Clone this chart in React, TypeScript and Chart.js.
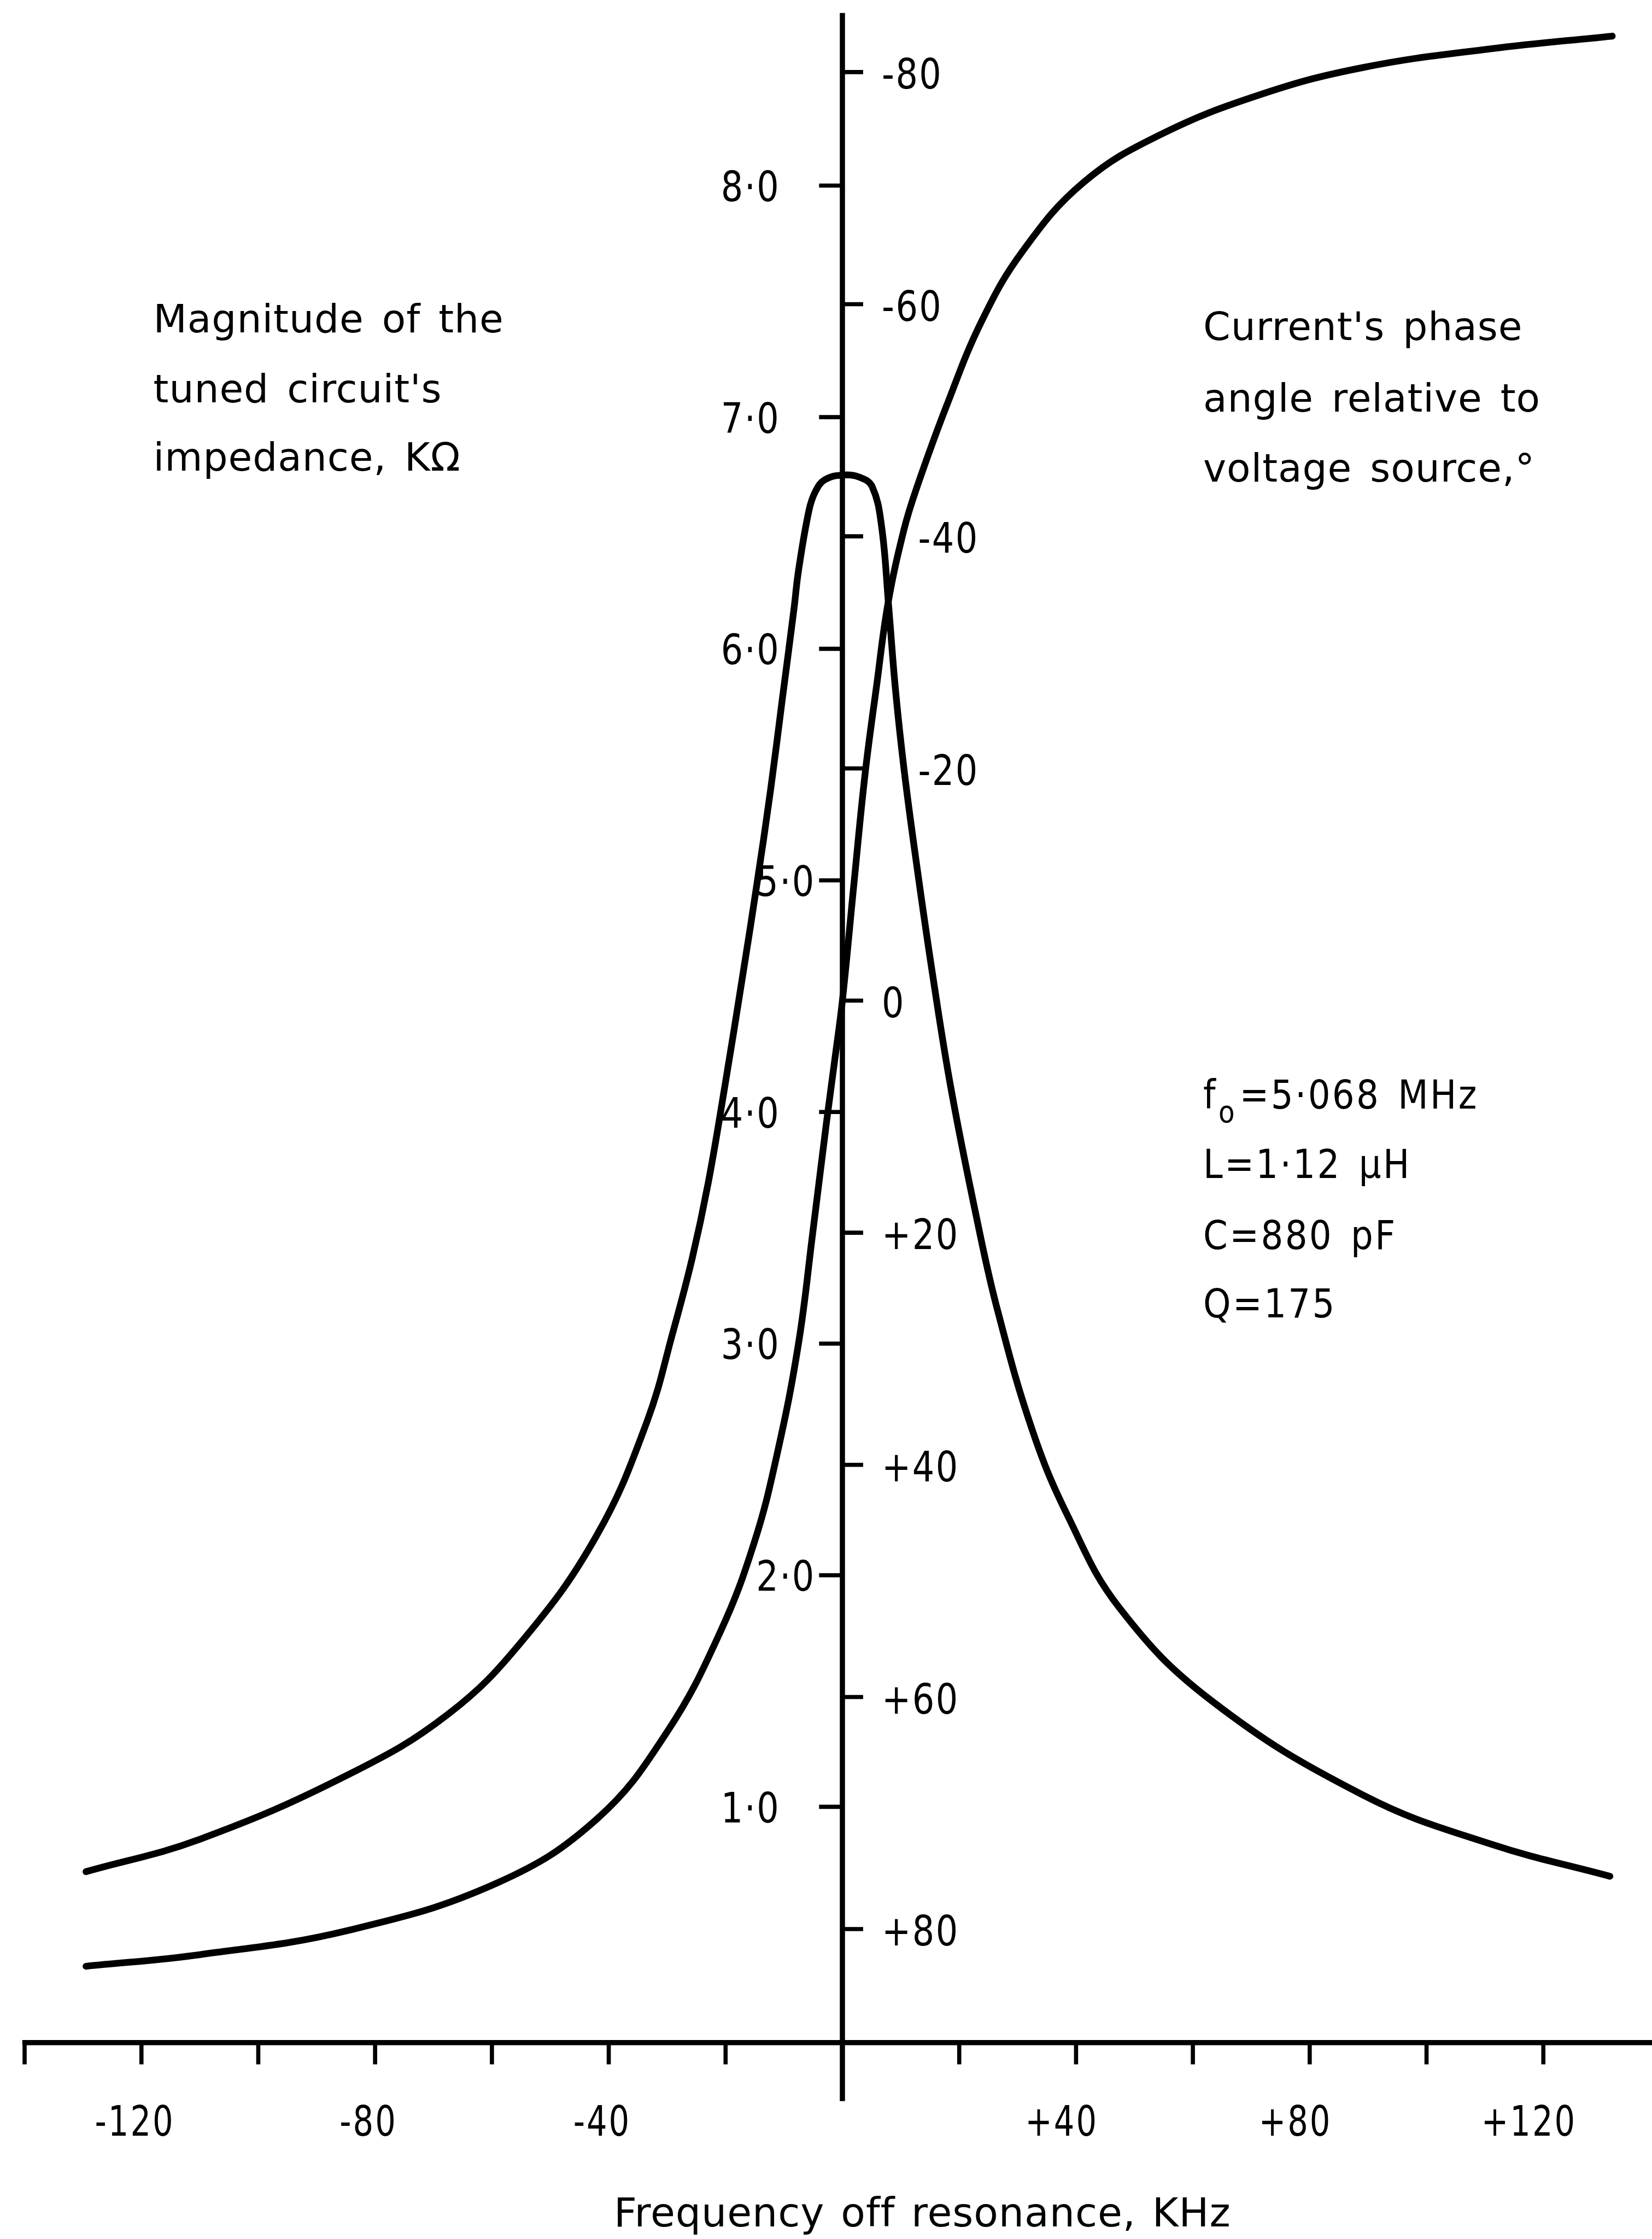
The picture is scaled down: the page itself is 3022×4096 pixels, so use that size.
import React, { useEffect, useRef } from "react";
import { Chart, registerables } from "chart.js";

Chart.register(...registerables);

const W = 3022;
const H = 4096;
// drawing unit: everything below is laid out on a 3188 x 4321 sheet and scaled down
const S = W / 3188;

// |Z| of the parallel tuned circuit, kΩ, against frequency off resonance, kHz
const impedanceFreq = [
  -129.5, -110, -84.5, -67.5, -54.7, -42.1, -33.5, -28.9, -25.7, -23.0, -20.2, -17.0, -14.6,
  -12.3, -10.3, -8.3, -7.5, -5.7, -4.6, -3.0, 0, 3.0, 5.1, 6.7, 7.9, 9.1, 10.6, 12.7, 15.4,
  18.6, 23.0, 26.5, 32.6, 38.7, 47.4, 63.1, 89.2, 110.9, 131.4,
];
const impedanceKOhm = [
  0.72, 0.86, 1.14, 1.4, 1.72, 2.17, 2.66, 3.06, 3.37, 3.69, 4.1, 4.6, 4.99, 5.39, 5.78, 6.17,
  6.34, 6.6, 6.68, 6.73, 6.75, 6.74, 6.7, 6.53, 6.19, 5.82, 5.47, 5.07, 4.6, 4.1, 3.54, 3.15,
  2.62, 2.25, 1.86, 1.46, 1.05, 0.84, 0.7,
];

// phase of the current relative to the voltage source, degrees
const phaseFreq = [
  -129.5, -110, -84.5, -59, -42, -30, -21, -15.1, -11.1, -7.5, -5.1, -2.7, -1.2, 0, 2.0, 3.9,
  5.9, 7.8, 10.5, 12.6, 17.8, 23.9, 30.9, 41.3, 54.4, 71.8, 89.2, 110.9, 131.8,
];
const phaseDeg = [
  83.2, 82.2, 80.1, 76.0, 70.5, 63.0, 54.5, 46.7, 38.9, 29.5, 20.1, 10.4, 4.7, 0, -10.2, -19.6,
  -27.3, -34.2, -40.5, -44.0, -51.2, -58.6, -64.6, -70.5, -74.6, -78.1, -80.4, -82.0, -83.1,
];

// axis ticks and labels
const freqTicks = [-140, -120, -100, -80, -60, -40, -20, 20, 40, 60, 80, 100, 120];
const freqLabelValues = [-120, -80, -40, 40, 80, 120];
const freqLabels = ["-120", "-80", "-40", "+40", "+80", "+120"];
const impedanceTicks = [1, 2, 3, 4, 5, 6, 7, 8];
const impedanceLabels = ["1·0", "2·0", "3·0", "4·0", "5·0", "6·0", "7·0", "8·0"];
const phaseTicks = [-80, -60, -40, -20, 0, 20, 40, 60, 80];
const phaseLabels = ["-80", "-60", "-40", "-20", "0", "+20", "+40", "+60", "+80"];

const impedanceNote = ["Magnitude of the", "tuned circuit's", "impedance, KΩ"];
const phaseNote = ["Current's phase", "angle relative to", "voltage source,°"];
const circuitNote = ["=5·068 MHz", "L=1·12 µH", "C=880 pF", "Q=175"];
const freqTitle = "Frequency off resonance, KHz";

const FONT = '"DejaVu Sans", "Liberation Sans", sans-serif';

const font = (px: number) => `${px * S}px ${FONT}`;

// text drawn with a horizontal squeeze (narrow plotter lettering)
function squeezed(
  ctx: CanvasRenderingContext2D,
  text: string,
  x: number,
  y: number,
  sx: number,
  align: CanvasTextAlign = "left",
) {
  ctx.save();
  ctx.translate(x, y);
  ctx.scale(sx, 1);
  ctx.textAlign = align;
  ctx.fillText(text, 0, 0);
  ctx.restore();
}

const axesPlugin = {
  id: "tunedCircuitAxes",
  beforeDraw(chart: any) {
    const ctx = chart.ctx as CanvasRenderingContext2D;
    ctx.save();
    ctx.fillStyle = "#fff";
    ctx.fillRect(0, 0, chart.width, chart.height);
    ctx.restore();
  },
  beforeDatasetsDraw(chart: any) {
    const ctx = chart.ctx as CanvasRenderingContext2D;
    const { x, yImp, yPhase } = chart.scales;
    const area = chart.chartArea;
    const axisX = x.getPixelForValue(0);
    const axisY = area.bottom;

    ctx.save();
    ctx.strokeStyle = "#000";
    ctx.lineCap = "butt";

    // main axes
    ctx.lineWidth = 10 * S;
    ctx.beginPath();
    ctx.moveTo(axisX, area.top - 5 * S);
    ctx.lineTo(axisX, axisY + 113 * S);
    ctx.moveTo(area.left, axisY);
    ctx.lineTo(area.right, axisY);
    ctx.stroke();

    ctx.lineWidth = 8 * S;
    ctx.beginPath();
    // frequency ticks hang below the baseline
    for (const v of freqTicks) {
      const px = x.getPixelForValue(v);
      ctx.moveTo(px, axisY);
      ctx.lineTo(px, axisY + 42 * S);
    }
    // impedance ticks point left
    for (const v of impedanceTicks) {
      const py = yImp.getPixelForValue(v);
      ctx.moveTo(axisX, py);
      ctx.lineTo(axisX - 45 * S, py);
    }
    // phase ticks point right
    for (const v of phaseTicks) {
      const py = yPhase.getPixelForValue(v);
      ctx.moveTo(axisX, py);
      ctx.lineTo(axisX + 40 * S, py);
    }
    ctx.stroke();
    ctx.restore();
  },
  afterDatasetsDraw(chart: any) {
    const ctx = chart.ctx as CanvasRenderingContext2D;
    const { x, yImp, yPhase } = chart.scales;
    const area = chart.chartArea;
    const axisX = x.getPixelForValue(0);
    const axisY = area.bottom;
    const c: any = ctx;

    ctx.save();
    ctx.fillStyle = "#000";
    ctx.textBaseline = "alphabetic";

    // impedance scale, left of the axis
    ctx.font = font(80);
    c.letterSpacing = `${3 * S}px`;
    impedanceTicks.forEach((v, i) => {
      const label = impedanceLabels[i];
      const close = label === "5·0" || label === "2·0";
      const px = axisX - (close ? 52 : 120) * S;
      squeezed(ctx, label, px, yImp.getPixelForValue(v) + 30 * S, 0.84, "right");
    });

    // phase scale, right of the axis
    phaseTicks.forEach((v, i) => {
      const label = phaseLabels[i];
      const shifted = v === -40 || v === -20;
      const px = axisX + (shifted ? 146 : 76) * S;
      squeezed(ctx, label, px, yPhase.getPixelForValue(v) + 32 * S, 0.84, "left");
    });

    // frequency labels: digits centred on the tick, sign hanging to the left
    ctx.font = font(80);
    c.letterSpacing = `${4 * S}px`;
    const fx = 0.78;
    freqLabelValues.forEach((v, i) => {
      const label = freqLabels[i];
      const digits = label.replace(/^[+\-]/, "");
      const sign = label.slice(0, label.length - digits.length);
      const dw = ctx.measureText(digits).width * fx;
      const sw = ctx.measureText(sign).width * fx;
      const tx = x.getPixelForValue(v);
      const by = axisY + 180 * S;
      squeezed(ctx, sign, tx - dw / 2 - sw, by, fx);
      squeezed(ctx, digits, tx - dw / 2, by, fx);
    });

    // frequency title
    ctx.font = font(77);
    c.letterSpacing = `${1 * S}px`;
    c.wordSpacing = `${6 * S}px`;
    ctx.textAlign = "center";
    ctx.fillText(freqTitle, 1780 * S, 4297 * S);

    // axis descriptions
    ctx.font = font(75);
    c.letterSpacing = `${1 * S}px`;
    c.wordSpacing = `${10 * S}px`;
    ctx.textAlign = "left";
    const leftBase = [641, 776, 908];
    impedanceNote.forEach((t, i) => ctx.fillText(t, 296 * S, leftBase[i] * S));
    const rightBase = [656, 794, 929];
    phaseNote.forEach((t, i) => ctx.fillText(t, 2322 * S, rightBase[i] * S));

    // circuit constants
    c.letterSpacing = `${4 * S}px`;
    c.wordSpacing = `${10 * S}px`;
    const px = 0.88;
    const constBase = [2139, 2273, 2411, 2542];
    const cx = 2322 * S;
    circuitNote.forEach((t, i) => {
      const by = constBase[i] * S;
      ctx.font = font(77);
      if (i === 0) {
        squeezed(ctx, "f", cx, by, px);
        const fw = ctx.measureText("f").width * px;
        ctx.font = font(58);
        squeezed(ctx, "o", cx + fw + 2 * S, by + 27 * S, px);
        const ow = ctx.measureText("o").width * px;
        ctx.font = font(77);
        squeezed(ctx, t, cx + fw + ow + 8 * S, by, px);
      } else {
        squeezed(ctx, t, cx, by, px);
      }
    });

    ctx.restore();
  },
};

export default function App() {
  const canvasRef = useRef<HTMLCanvasElement | null>(null);

  useEffect(() => {
    const canvas = canvasRef.current;
    if (!canvas) return;
    const curve = {
      borderColor: "#000",
      borderWidth: 13 * S,
      borderCapStyle: "round" as const,
      borderJoinStyle: "round" as const,
      pointRadius: 0,
      pointHoverRadius: 0,
      fill: false,
      tension: 0.4,
    };
    const chart = new Chart(canvas, {
      type: "line",
      data: {
        datasets: [
          {
            ...curve,
            label: "Magnitude of the tuned circuit's impedance, KΩ",
            data: impedanceFreq.map((f, i) => ({ x: f, y: impedanceKOhm[i] })),
            yAxisID: "yImp",
          },
          {
            ...curve,
            label: "Current's phase angle relative to voltage source,°",
            data: phaseFreq.map((f, i) => ({ x: f, y: phaseDeg[i] })),
            yAxisID: "yPhase",
          },
        ],
      },
      options: {
        animation: false,
        responsive: false,
        maintainAspectRatio: false,
        devicePixelRatio: 1,
        events: [],
        layout: {
          padding: { left: 43 * S, right: 0, top: 30 * S, bottom: (4321 - 3942) * S },
        },
        plugins: {
          legend: { display: false },
          tooltip: { enabled: false },
        },
        scales: {
          x: { type: "linear", min: -140.4, max: 138.6, display: false },
          yImp: { type: "linear", position: "left", min: -0.018, max: 8.734, display: false },
          yPhase: {
            type: "linear",
            position: "right",
            min: -84.87,
            max: 89.78,
            reverse: true,
            display: false,
          },
        },
      },
      plugins: [axesPlugin],
    });
    return () => chart.destroy();
  }, []);

  return (
    <div style={{ position: "absolute", left: 0, top: 0, width: W, height: H, background: "#fff" }}>
      <canvas ref={canvasRef} width={W} height={H} style={{ display: "block", width: W, height: H }} />
    </div>
  );
}
